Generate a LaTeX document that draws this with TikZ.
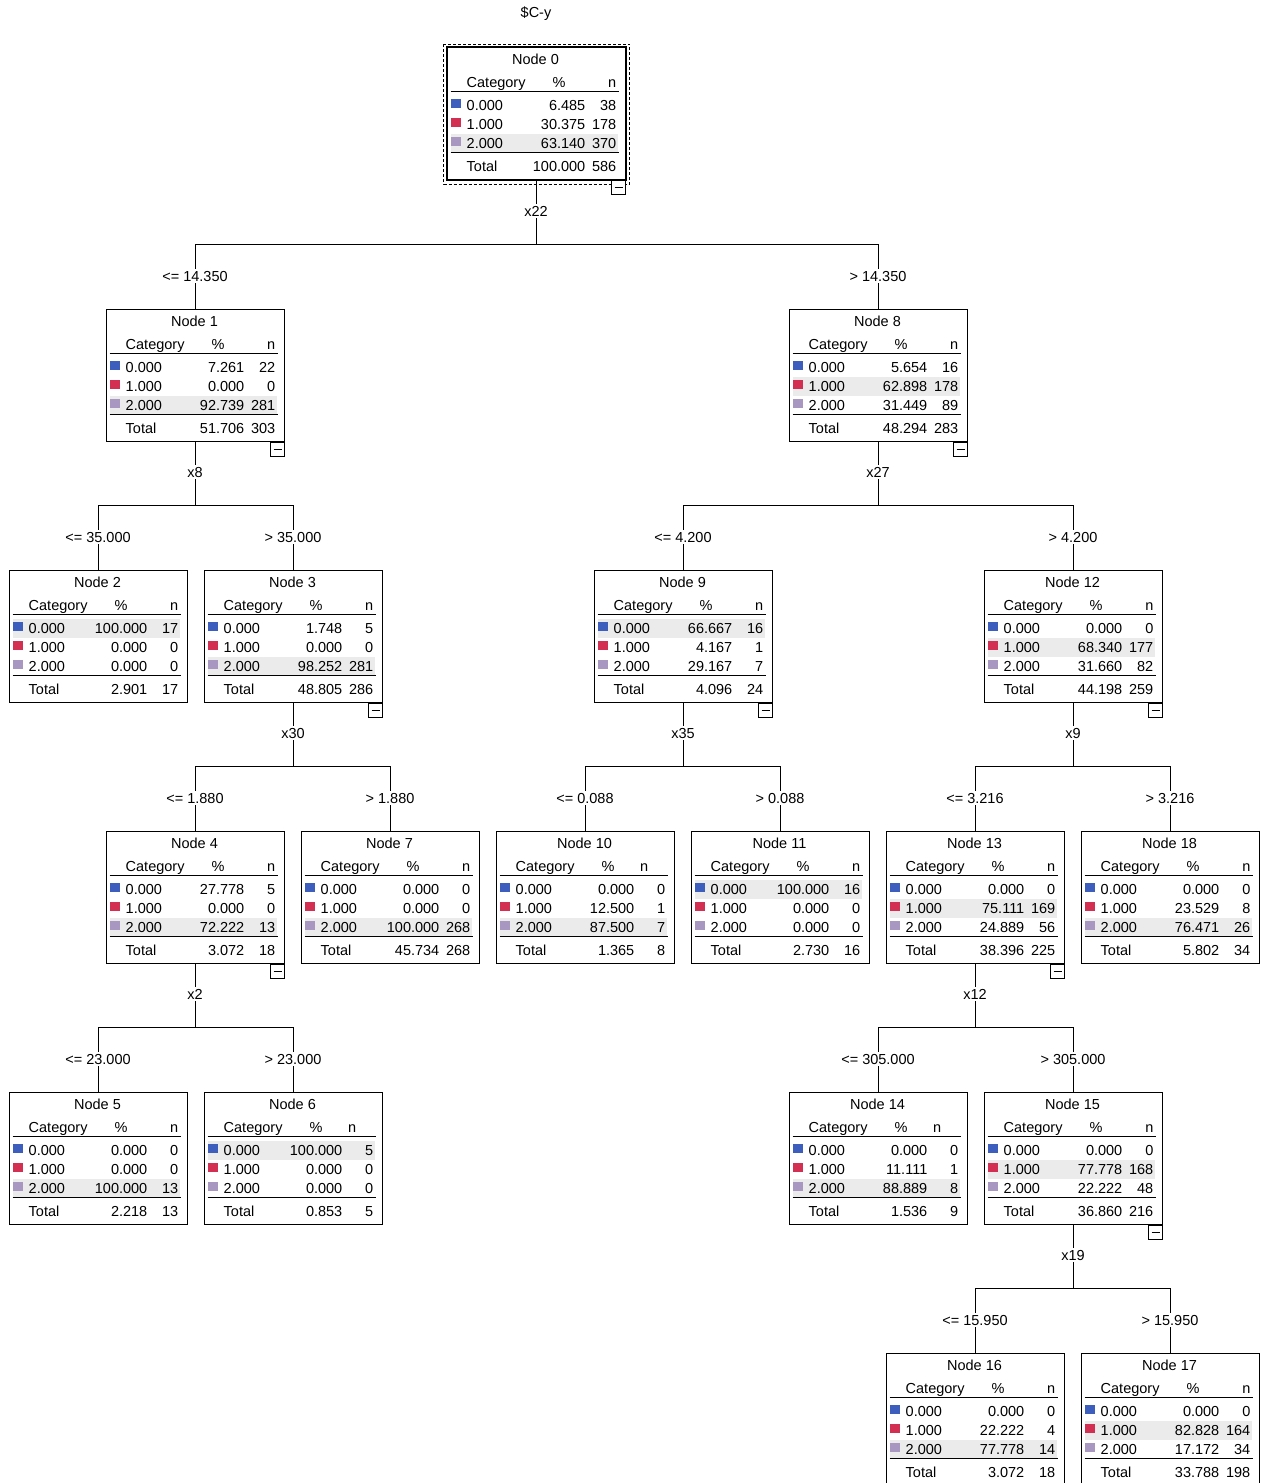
\documentclass[tikz,border=0pt]{standalone}
\usepackage{fontspec}
\setmainfont{Liberation Sans}
\usepackage{tikz}
\definecolor{class_0}{HTML}{3E5EBD}
\definecolor{class_1}{HTML}{D32F52}
\definecolor{class_2}{HTML}{A897C0}
\definecolor{row_grey}{HTML}{EBEBEB}
\tikzset{
  tree box/.style={draw, line width=1pt, minimum width=178pt, minimum height=132pt, inner sep=0pt, anchor=north},
  cell/.style={inner sep=0pt, text height=10.4pt, text depth=0pt},
  rule/.style={line width=1.7pt},
  var label/.style={inner sep=2pt, text height=10.4pt, text depth=0pt},
  cut label/.style={inner sep=2pt, text height=10.4pt, text depth=0pt},
  link/.style={line width=1pt},
  dashed box/.style={line width=1pt, dash pattern=on 3pt off 2pt}
}

% one table of the tree: [n header], name, top centre, number, grey row, rows, total %, total n
\newcommand{\treetable}[8][170]{%
  \node[tree box] (#2) at #3 {};
  \begin{scope}[shift={(#2.north west)}]
    \fill[row_grey] (4,{48.5+19*#5}) rectangle (171,{67.5+19*#5});
    \node[cell] (#2-title) at (89,12.5) {Node #4};
    \node[cell, anchor=west] (#2-hcat) at (20,35.5) {Category};
    \node[cell] (#2-hpct) at (112.5,35.5) {\%};
    \node[cell, anchor=east] (#2-hn) at (#1,35.5) {n};
    \draw[rule] (4,44.5) -- (172,44.5);
    \foreach \pct/\cnt [count=\i from 0] in {#6} {
      \fill[class_\i] (4,{51.5+19*\i}) rectangle (14,{61+19*\i});
      \node[cell, anchor=west] (#2-c\i) at (20,{58+19*\i}) {\i.000};
      \node[cell, anchor=east] (#2-p\i) at (139,{58+19*\i}) {\pct};
      \node[cell, anchor=east] (#2-n\i) at (170,{58+19*\i}) {\cnt};
    }
    \draw[rule] (4,105.5) -- (172,105.5);
    \node[cell, anchor=west] (#2-tot) at (20,119) {Total};
    \node[cell, anchor=east] (#2-tp) at (139,119) {#7};
    \node[cell, anchor=east] (#2-tn) at (170,119) {#8};
  \end{scope}}

% minus box under an open node
\newcommand{\minusbox}[1]{%
  \begin{scope}[shift={(#1.south east)}]
    \draw[line width=1pt, fill=white] (-14,0) rectangle (0,14);
    \draw[line width=1pt] (-11,7) -- (-3,7);
  \end{scope}}

\begin{document}
\begin{tikzpicture}[x=1pt, y=-1pt, every node/.style={font=\fontsize{14.5}{17}\selectfont}]
\path[use as bounding box, fill=white] (0,0) rectangle (1263,1483);

% Title of the tree
\node (title) at (536,14) {\$C-y};

% Root node
\treetable{n0}{(536,47)}{0}{2}{6.485/38, 30.375/178, 63.140/370}{100.000}{586}
\draw[line width=2pt] (n0.north west) rectangle (n0.south east);
\draw[dashed box] ([shift={(-3,-3)}]n0.north west) rectangle ([shift={(4,4)}]n0.south east);

% First level
\treetable{n1}{(195,309)}{1}{2}{7.261/22, 0.000/0, 92.739/281}{51.706}{303}
\treetable{n8}{(878,309)}{8}{1}{5.654/16, 62.898/178, 31.449/89}{48.294}{283}

% Second level
\treetable{n2}{(98,570)}{2}{0}{100.000/17, 0.000/0, 0.000/0}{2.901}{17}
\treetable{n3}{(293,570)}{3}{2}{1.748/5, 0.000/0, 98.252/281}{48.805}{286}
\treetable{n9}{(683,570)}{9}{0}{66.667/16, 4.167/1, 29.167/7}{4.096}{24}
\treetable{n12}{(1073,570)}{12}{1}{0.000/0, 68.340/177, 31.660/82}{44.198}{259}

% Third level
\treetable{n4}{(195,831)}{4}{2}{27.778/5, 0.000/0, 72.222/13}{3.072}{18}
\treetable{n7}{(390,831)}{7}{2}{0.000/0, 0.000/0, 100.000/268}{45.734}{268}
\treetable[153]{n10}{(585,831)}{10}{2}{0.000/0, 12.500/1, 87.500/7}{1.365}{8}
\treetable{n11}{(780,831)}{11}{0}{100.000/16, 0.000/0, 0.000/0}{2.730}{16}
\treetable{n13}{(975,831)}{13}{1}{0.000/0, 75.111/169, 24.889/56}{38.396}{225}
\treetable{n18}{(1170,831)}{18}{2}{0.000/0, 23.529/8, 76.471/26}{5.802}{34}

% Fourth level
\treetable{n5}{(98,1092)}{5}{2}{0.000/0, 0.000/0, 100.000/13}{2.218}{13}
\treetable[153]{n6}{(293,1092)}{6}{0}{100.000/5, 0.000/0, 0.000/0}{0.853}{5}
\treetable[153]{n14}{(878,1092)}{14}{2}{0.000/0, 11.111/1, 88.889/8}{1.536}{9}
\treetable{n15}{(1073,1092)}{15}{1}{0.000/0, 77.778/168, 22.222/48}{36.860}{216}

% Fifth level
\treetable{n16}{(975,1353)}{16}{2}{0.000/0, 22.222/4, 77.778/14}{3.072}{18}
\treetable{n17}{(1170,1353)}{17}{1}{0.000/0, 82.828/164, 17.172/34}{33.788}{198}

% Minus boxes of the open nodes
\minusbox{n0}
\minusbox{n1}
\minusbox{n8}
\minusbox{n3}
\minusbox{n9}
\minusbox{n12}
\minusbox{n4}
\minusbox{n13}
\minusbox{n15}

% Split variables
\node[var label] (s0) at (536,211) {x22};
\node[var label] (s1) at (195,472) {x8};
\node[var label] (s8) at (878,472) {x27};
\node[var label] (s3) at (293,733) {x30};
\node[var label] (s9) at (683,733) {x35};
\node[var label] (s12) at (1073,733) {x9};
\node[var label] (s4) at (195,994) {x2};
\node[var label] (s13) at (975,994) {x12};
\node[var label] (s15) at (1073,1255) {x19};

% Bars under the split variables
\coordinate (b0) at (536,244);
\coordinate (b1) at (195,505);
\coordinate (b8) at (878,505);
\coordinate (b3) at (293,766);
\coordinate (b9) at (683,766);
\coordinate (b12) at (1073,766);
\coordinate (b4) at (195,1027);
\coordinate (b13) at (975,1027);
\coordinate (b15) at (1073,1288);

% Cut values above the children
\node[cut label] (c1) at (195,276) {<= 14.350};
\node[cut label] (c8) at (878,276) {> 14.350};
\node[cut label] (c2) at (98,537) {<= 35.000};
\node[cut label] (c3) at (293,537) {> 35.000};
\node[cut label] (c9) at (683,537) {<= 4.200};
\node[cut label] (c12) at (1073,537) {> 4.200};
\node[cut label] (c4) at (195,798) {<= 1.880};
\node[cut label] (c7) at (390,798) {> 1.880};
\node[cut label] (c10) at (585,798) {<= 0.088};
\node[cut label] (c11) at (780,798) {> 0.088};
\node[cut label] (c13) at (975,798) {<= 3.216};
\node[cut label] (c18) at (1170,798) {> 3.216};
\node[cut label] (c5) at (98,1059) {<= 23.000};
\node[cut label] (c6) at (293,1059) {> 23.000};
\node[cut label] (c14) at (878,1059) {<= 305.000};
\node[cut label] (c15) at (1073,1059) {> 305.000};
\node[cut label] (c16) at (975,1320) {<= 15.950};
\node[cut label] (c17) at (1170,1320) {> 15.950};

% Split of node 0
\draw[link] (n0) -- (s0);
\draw[link] (s0) -- (b0) -| (c1);
\draw[link] (s0) -- (b0) -| (c8);
\draw[link] (c1) -- (n1);
\draw[link] (c8) -- (n8);

% Split of node 1
\draw[link] (n1) -- (s1);
\draw[link] (s1) -- (b1) -| (c2);
\draw[link] (s1) -- (b1) -| (c3);
\draw[link] (c2) -- (n2);
\draw[link] (c3) -- (n3);

% Split of node 8
\draw[link] (n8) -- (s8);
\draw[link] (s8) -- (b8) -| (c9);
\draw[link] (s8) -- (b8) -| (c12);
\draw[link] (c9) -- (n9);
\draw[link] (c12) -- (n12);

% Split of node 3
\draw[link] (n3) -- (s3);
\draw[link] (s3) -- (b3) -| (c4);
\draw[link] (s3) -- (b3) -| (c7);
\draw[link] (c4) -- (n4);
\draw[link] (c7) -- (n7);

% Split of node 9
\draw[link] (n9) -- (s9);
\draw[link] (s9) -- (b9) -| (c10);
\draw[link] (s9) -- (b9) -| (c11);
\draw[link] (c10) -- (n10);
\draw[link] (c11) -- (n11);

% Split of node 12
\draw[link] (n12) -- (s12);
\draw[link] (s12) -- (b12) -| (c13);
\draw[link] (s12) -- (b12) -| (c18);
\draw[link] (c13) -- (n13);
\draw[link] (c18) -- (n18);

% Split of node 4
\draw[link] (n4) -- (s4);
\draw[link] (s4) -- (b4) -| (c5);
\draw[link] (s4) -- (b4) -| (c6);
\draw[link] (c5) -- (n5);
\draw[link] (c6) -- (n6);

% Split of node 13
\draw[link] (n13) -- (s13);
\draw[link] (s13) -- (b13) -| (c14);
\draw[link] (s13) -- (b13) -| (c15);
\draw[link] (c14) -- (n14);
\draw[link] (c15) -- (n15);

% Split of node 15
\draw[link] (n15) -- (s15);
\draw[link] (s15) -- (b15) -| (c16);
\draw[link] (s15) -- (b15) -| (c17);
\draw[link] (c16) -- (n16);
\draw[link] (c17) -- (n17);

\end{tikzpicture}
\end{document}
